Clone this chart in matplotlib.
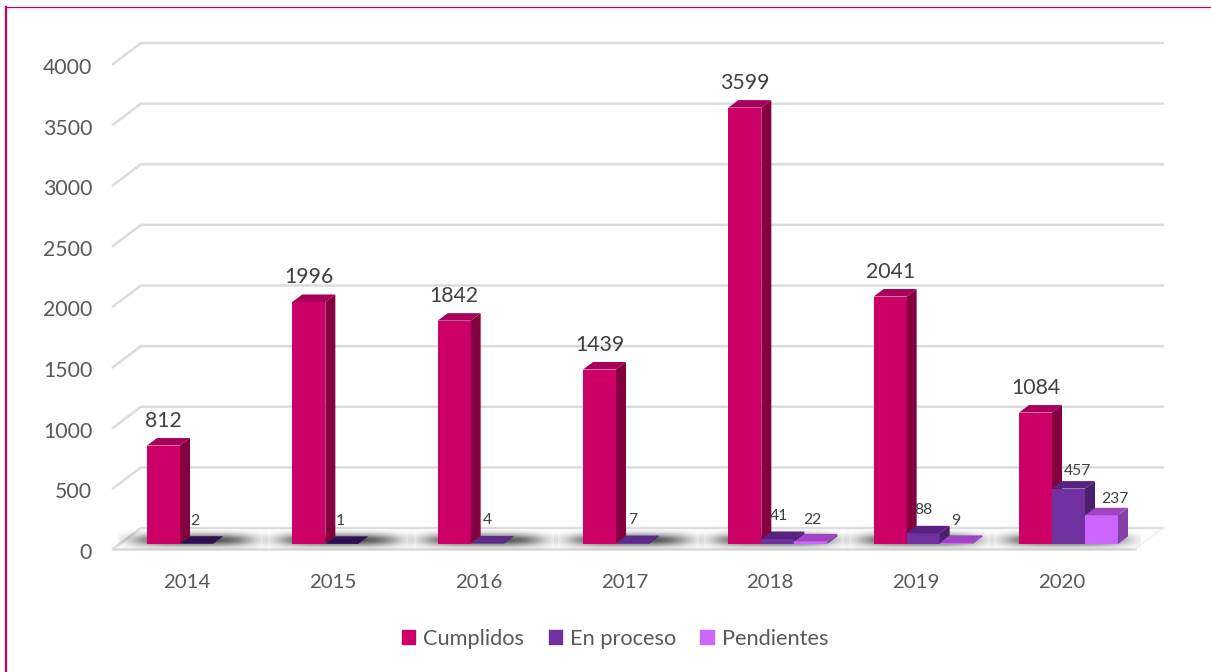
import numpy as np
import matplotlib
matplotlib.use("Agg")
import matplotlib.pyplot as plt
from matplotlib.lines import Line2D
from matplotlib.patches import Patch
from matplotlib.transforms import ScaledTranslation

years = ["2014", "2015", "2016", "2017", "2018", "2019", "2020"]
cumplidos = [812, 1996, 1842, 1439, 3599, 2041, 1084]
en_proceso = [2, 1, 4, 7, 41, 88, 457]
pendientes = [None, None, None, None, 22, 9, 237]
y_ticks = [0, 500, 1000, 1500, 2000, 2500, 3000, 3500, 4000]

W, H = 1211, 672
X0, X1, Y_TOP, Y_BOT = 113, 1163, 43, 549
PX_PER_CAT = 145.33
PX_PER_VAL = 485 / 4000


def px_x(p):
    return p / PX_PER_CAT


def px_y(p):
    return p / PX_PER_VAL


plt.rcParams["font.family"] = ["Lato", "DejaVu Sans"]
fig = plt.figure(figsize=(W / 100, H / 100), dpi=100)
ax = fig.add_axes([X0 / W, 1 - Y_BOT / H, (X1 - X0) / W, (Y_BOT - Y_TOP) / H])
ax.patch.set_alpha(0)
xlim = (-0.5, (X1 - X0) / PX_PER_CAT - 0.5)
ylim = (0, (Y_BOT - Y_TOP) / PX_PER_VAL)

# chart frame
fig.add_artist(Line2D([6 / W, 6 / W], [0, 1 - 7 / H], color="#C8005F", lw=1.6))
fig.add_artist(Line2D([6 / W, 1], [1 - 7 / H, 1 - 7 / H], color="#C8005F", lw=0.9))

# 3D walls
wall_dx, wall_dy = px_x(28), px_y(21)
grid_color = "#DCDCDC"
for v in y_ticks:
    if v == 0:
        continue
    ax.plot([xlim[0], xlim[0] + wall_dx, xlim[1]], [v, v + wall_dy, v + wall_dy],
            color=grid_color, lw=1.8, clip_on=False, zorder=1, solid_joinstyle="miter")

# floor
floor_right = xlim[0] + px_x(1022)
ax.plot([xlim[0], xlim[0] + wall_dx, xlim[1]], [0, wall_dy, wall_dy],
        color=grid_color, lw=1.8, clip_on=False, zorder=1, solid_joinstyle="miter")
ax.plot([xlim[0], floor_right], [0, 0], color=grid_color, lw=1.8, clip_on=False, zorder=1)
ax.plot([floor_right, floor_right + wall_dx], [0, wall_dy], color="#EEEEEE", lw=1.2,
        clip_on=False, zorder=1)

# shadows on the floor
sx = np.linspace(-1, 1, 260)
sy = np.linspace(-1, 1, 40)
gx, gy = np.meshgrid(sx, sy)
alpha = np.exp(-(np.abs(gx) / 0.80) ** 4) * np.exp(-(np.abs(gy) / 0.62) ** 2) * 0.8
rgba = np.zeros(alpha.shape + (4,))
rgba[..., :3] = 0.15
rgba[..., 3] = alpha
for i in range(len(years)):
    ax.imshow(rgba, extent=(i - px_x(68), i + px_x(82), px_y(-1), px_y(18)),
              aspect="auto", interpolation="bilinear", zorder=1.5, clip_on=False)

# bars
bar_w = px_x(33)
start = px_x(-38.66)
front_dy = px_y(5)
depth_dx, depth_dy = px_x(10), px_y(7.5)

series = [
    ("Cumplidos", cumplidos, "#CC0066", "#A8005A", "#85003F"),
    ("En proceso", en_proceso, "#7030A0", "#562480", "#4A1F6E"),
    ("Pendientes", pendientes, "#CC66FF", "#A044C0", "#8540A8"),
]
dark_tops = {2: "#2D1050", 1: "#2D1050", 4: "#5B2A8A", 7: "#5B2A8A"}

for i in range(len(years)):
    for j, (name, vals, cf, ct, cs) in enumerate(series):
        v = vals[i]
        if v is None:
            continue
        left = i + start + j * bar_w
        right = left + bar_w
        top = front_dy + v
        z = 3 + j
        ax.bar(left, v, width=bar_w, bottom=front_dy, align="edge", color=cf, zorder=z)
        tc = dark_tops.get(v, ct) if j == 1 else ct
        ax.fill([left, right, right + depth_dx, left + depth_dx],
                [top, top, top + depth_dy, top + depth_dy], color=tc, lw=0, zorder=z)
        ax.fill([right, right + depth_dx, right + depth_dx, right],
                [front_dy, front_dy + depth_dy, top + depth_dy, top], color=cs, lw=0, zorder=z)

# data labels: offsets in points from the top-centre of the bar front
lab_dark = "#404040"
for i, v in enumerate(cumplidos):
    ax.annotate(str(v), (i + start + bar_w / 2, front_dy + v), xytext=(0, 18),
                textcoords="offset points", ha="center", va="center",
                fontsize=15.3, color=lab_dark, zorder=10, annotation_clip=False)
offs1 = [(-1, 16.5), (-1, 16.5), (0, 17), (0, 17), (0.5, 16.5), (0, 16.5), (6.5, 12.5)]
offs2 = [None, None, None, None, (1.2, 15), (0, 15.5), (9.5, 12)]
for i, v in enumerate(en_proceso):
    ax.annotate(str(v), (i + start + 1.5 * bar_w, front_dy + v), xytext=offs1[i],
                textcoords="offset points", ha="center", va="center",
                fontsize=11.3, color=lab_dark, zorder=10, annotation_clip=False)
for i, v in enumerate(pendientes):
    if v is None:
        continue
    ax.annotate(str(v), (i + start + 2.5 * bar_w, front_dy + v), xytext=offs2[i],
                textcoords="offset points", ha="center", va="center",
                fontsize=11.3, color=lab_dark, zorder=10, annotation_clip=False)

ax.set_xlim(*xlim)
ax.set_ylim(*ylim)
for s in ax.spines.values():
    s.set_visible(False)
tick_step = px_x(145.8)
tick_base = px_x(1.3)
ax.set_xticks([tick_base + i * tick_step for i in range(len(years))], years)
ax.set_yticks(y_ticks)
ax.tick_params(axis="x", length=0, pad=18, labelsize=14.7, labelcolor="#595959")
ax.tick_params(axis="y", length=0, pad=15, labelsize=15.3, labelcolor="#595959")
shift = ScaledTranslation(0, -2 / 100, fig.dpi_scale_trans)
for lab in ax.get_yticklabels():
    lab.set_transform(lab.get_transform() + shift)

handles = [Patch(color=s[2], label=s[0]) for s in series]
fig.legend(handles=handles, ncol=3, loc="center", bbox_to_anchor=(615 / W, 1 - 639 / H),
           frameon=False, fontsize=15.7, labelcolor="#595959", handlelength=0.62,
           handleheight=0.62, handletextpad=0.35, columnspacing=1.12)

fig.savefig("out.png", dpi=100)
